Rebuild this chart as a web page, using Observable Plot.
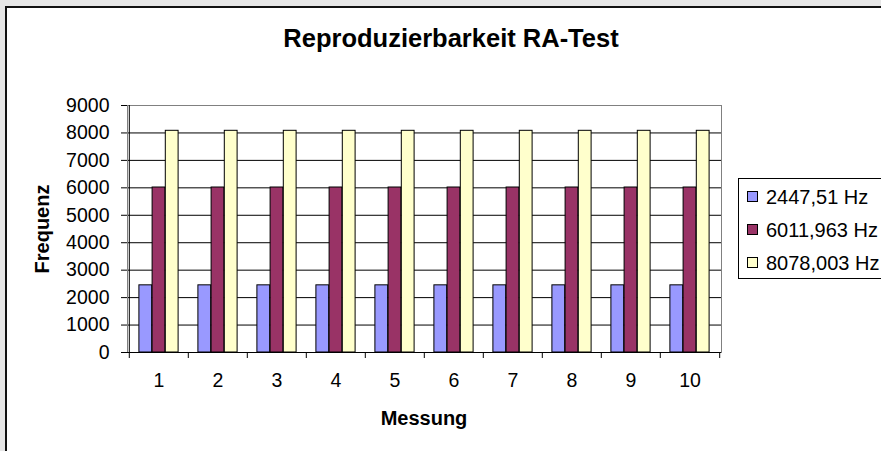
<!DOCTYPE html>
<html><head><meta charset="utf-8">
<script src="https://cdn.jsdelivr.net/npm/d3@7"></script>
<script src="https://cdn.jsdelivr.net/npm/@observablehq/plot@0.6"></script>
<style>
body{margin:0;}
#wrap{position:relative;width:881px;height:451px;background:#e6e6e6;overflow:hidden;font-family:"Liberation Sans",Arial,sans-serif;color:#000;}
#panel{position:absolute;left:5px;top:6px;width:900px;height:470px;background:#fff;border-left:2px solid #111;border-top:2px solid #111;}
#chart{position:absolute;left:0;top:0;}
.t{position:absolute;white-space:nowrap;line-height:1;}
#title{left:451px;top:39px;transform:translate(-50%,-50%);font-size:25.5px;font-weight:bold;}
#xlab{left:424px;top:418px;transform:translate(-50%,-50%);font-size:20px;font-weight:bold;}
#ylab{left:42px;top:229px;transform:translate(-50%,-50%) rotate(-90deg);font-size:20px;font-weight:bold;}
#legend{position:absolute;left:738px;top:178px;width:200px;height:99px;border:1px solid #000;background:#fff;}
.li{position:absolute;left:8px;transform:translateY(-50%);display:flex;align-items:center;font-size:20px;line-height:1;white-space:nowrap;}
.sw{width:9px;height:9px;border:1px solid #000;margin-right:8px;}
</style>
</head><body>
<div id="wrap">
  <div id="panel"></div>
  <div id="chart"></div>
  <div class="t" id="title">Reproduzierbarkeit RA-Test</div>
  <div class="t" id="xlab">Messung</div>
  <div class="t" id="ylab">Frequenz</div>
  <div id="legend"></div>
</div>
<script>
const messungen = ["1","2","3","4","5","6","7","8","9","10"];
const series = ["2447,51 Hz","6011,963 Hz","8078,003 Hz"];
const s1 = [2447.51,2447.51,2447.51,2447.51,2447.51,2447.51,2447.51,2447.51,2447.51,2447.51];
const s2 = [6011.963,6011.963,6011.963,6011.963,6011.963,6011.963,6011.963,6011.963,6011.963,6011.963];
const s3 = [8078.003,8078.003,8078.003,8078.003,8078.003,8078.003,8078.003,8078.003,8078.003,8078.003];
const colors = ["#9999ff","#993366","#ffffcc"];
const yTicks = [0,1000,2000,3000,4000,5000,6000,7000,8000,9000];

const values = [s1, s2, s3];
const rows = messungen.flatMap((m, i) => series.map((s, k) => ({m, s, k, v: values[k][i]})));

const W = 881, H = 451, ML = 127, MR = 160, MT = 105, MB = 99;
const bw = (W - ML - MR) / messungen.length;
const barW = bw / 4.5, gap = bw * 0.75 / 4.5;

const barMarks = series.map((s, k) => Plot.barY(rows.filter(d => d.k === k), {
  x: "m", y: "v", fill: "s", stroke: "#000", strokeWidth: 1,
  insetLeft: gap + barW * k, insetRight: bw - gap - barW * (k + 1)
}));

const chart = Plot.plot({
  width: W, height: H,
  marginLeft: ML, marginRight: MR, marginTop: MT, marginBottom: MB,
  style: {background: "transparent", fontFamily: "'Liberation Sans', Arial, sans-serif", fontSize: "19.5px", color: "#000", overflow: "visible"},
  x: {type: "band", domain: messungen, padding: 0},
  y: {domain: [0, 9000]},
  color: {domain: series, range: colors},
  marks: [
    Plot.gridY(yTicks, {stroke: "#000", strokeOpacity: 1}),
    Plot.frame({stroke: "#808080"}),
    ...barMarks,
    Plot.ruleY([0], {stroke: "#000"}),
    Plot.ruleX([messungen[0]], {dx: -bw / 2, stroke: "#000"}),
    Plot.axisY(yTicks, {tickSize: 6, tickPadding: 12, tickFormat: d => String(d), label: null, stroke: "#000"}),
    Plot.axisX({tickSize: 0, tickPadding: 21, label: null}),
    Plot.axisX(messungen, {tickSize: 6, tickFormat: () => "", dx: -bw / 2, label: null, stroke: "#000"}),
    Plot.axisX([messungen[messungen.length - 1]], {tickSize: 6, tickFormat: () => "", dx: bw / 2, label: null, stroke: "#000"})
  ]
});
document.getElementById("chart").appendChild(chart);

const legend = document.getElementById("legend");
const rowY = [17.5, 50.5, 83.5];
series.forEach((s, k) => {
  const it = document.createElement("div");
  it.className = "li";
  it.style.top = rowY[k] + "px";
  const sw = document.createElement("div");
  sw.className = "sw";
  sw.style.background = colors[k];
  it.appendChild(sw);
  it.appendChild(document.createTextNode(s));
  legend.appendChild(it);
});
</script>
</body></html>
